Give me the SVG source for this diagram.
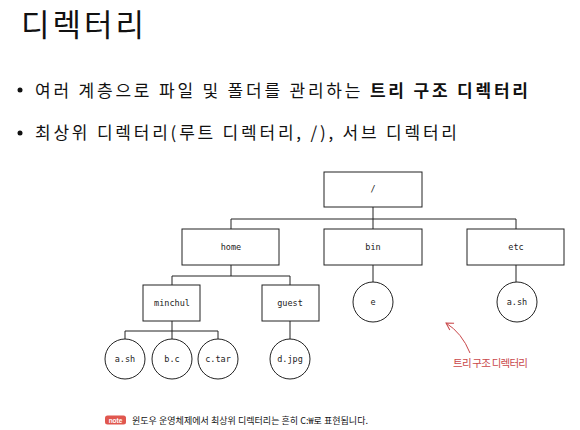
<svg xmlns="http://www.w3.org/2000/svg" width="580" height="430" viewBox="0 0 580 430">
<style>
.kr{font-family:"Noto Sans CJK KR","Noto Sans",sans-serif;fill:#111}
.box{fill:#fff;stroke:#222;stroke-width:1}
.lbl{font-family:"DejaVu Sans Mono",monospace;font-size:8.5px;fill:#222;text-anchor:middle;dominant-baseline:central}
.ln{stroke:#222;stroke-width:1;fill:none}
</style>
<defs>
<marker id="ah" markerWidth="10" markerHeight="10" refX="8" refY="5" orient="auto" markerUnits="userSpaceOnUse">
<path d="M1,1 L8,5 L1,9" fill="none" stroke="#c9474a" stroke-width="1"/>
</marker>
</defs>
<rect width="580" height="430" fill="#fff"/>
<text class="kr" x="21" y="36" font-size="31" letter-spacing="3">디렉터리</text>
<circle cx="20" cy="90" r="2.5" fill="#111"/>
<text class="kr" x="35" y="97" font-size="17" textLength="493" lengthAdjust="spacing">여러 계층으로 파일 및 폴더를 관리하는 <tspan font-weight="bold">트리 구조 디렉터리</tspan></text>
<circle cx="20" cy="133" r="2.5" fill="#111"/>
<text class="kr" x="35" y="139" font-size="17" textLength="422" lengthAdjust="spacing">최상위 디렉터리(루트 디렉터리, /), 서브 디렉터리</text>
<g id="connectors">
<path class="ln" d="M373,207 V219 M231,219 H516 M231,219 V229 M373,219 V229 M516,219 V229"/>
<path class="ln" d="M231,265 V276 M172,276 H290 M172,276 V285 M290,276 V285"/>
<path class="ln" d="M172,321 V331 M125,331 H218 M125,331 V339 M172,331 V339 M218,331 V339"/>
<path class="ln" d="M290,321 V339 M373,265 V282 M516,265 V282"/>
<path d="M470,353 Q462,333 446,323" fill="none" stroke="#c9474a" stroke-width="1" marker-end="url(#ah)"/>
</g>
<g id="root"><rect class="box" x="324" y="172" width="98" height="35"/><text class="lbl" x="373" y="189">/</text></g>
<g id="home"><rect class="box" x="182" y="229" width="97" height="36"/><text class="lbl" x="231" y="247">home</text></g>
<g id="bin"><rect class="box" x="324" y="229" width="98" height="36"/><text class="lbl" x="373" y="247">bin</text></g>
<g id="etc"><rect class="box" x="467" y="229" width="97" height="36"/><text class="lbl" x="516" y="247">etc</text></g>
<g id="minchul"><rect class="box" x="143" y="285" width="57" height="36"/><text class="lbl" x="172" y="303">minchul</text></g>
<g id="guest"><rect class="box" x="262" y="285" width="57" height="36"/><text class="lbl" x="290" y="303">guest</text></g>
<g id="a-sh"><circle class="box" cx="125" cy="359" r="20"/><text class="lbl" x="125" y="359">a.sh</text></g>
<g id="b-c"><circle class="box" cx="172" cy="359" r="20"/><text class="lbl" x="172" y="359">b.c</text></g>
<g id="c-tar"><circle class="box" cx="218" cy="359" r="20"/><text class="lbl" x="218" y="359">c.tar</text></g>
<g id="d-jpg"><circle class="box" cx="290" cy="359" r="20"/><text class="lbl" x="290" y="359">d.jpg</text></g>
<g id="e"><circle class="box" cx="373" cy="302" r="20"/><text class="lbl" x="373" y="302">e</text></g>
<g id="etc-a-sh"><circle class="box" cx="517" cy="302" r="20"/><text class="lbl" x="517" y="302">a.sh</text></g>
<text class="kr" x="453" y="367" font-size="10.5" style="fill:#c9474a" textLength="75" lengthAdjust="spacing">트리 구조 디렉터리</text>
<g id="note">
<rect x="105" y="415.5" width="21" height="9" rx="2.5" fill="#e0574f"/>
<text x="115.5" y="422.5" font-family="'Liberation Sans',sans-serif" font-size="6.5" font-weight="bold" fill="#fff" text-anchor="middle">note</text>
<text class="kr" x="132" y="423.5" font-size="9" textLength="236" lengthAdjust="spacing">윈도우 운영체제에서 최상위 디렉터리는 흔히 C:₩로 표현됩니다.</text>
</g>
</svg>
